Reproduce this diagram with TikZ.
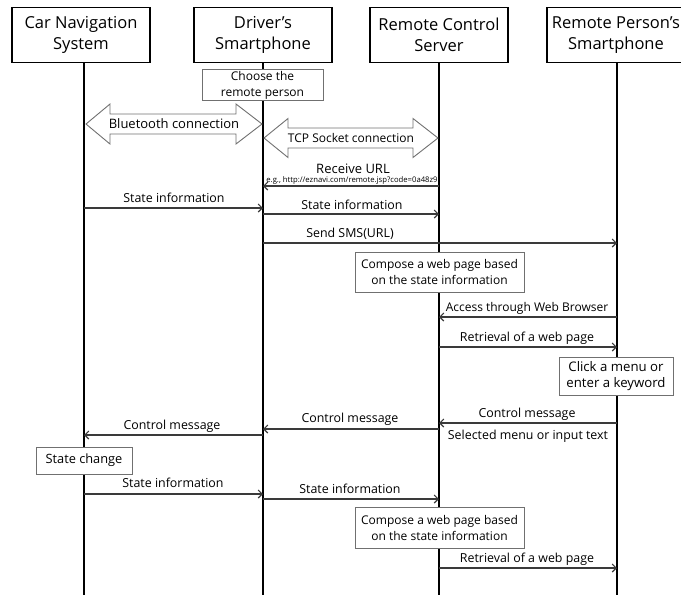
\documentclass[tikz,border=0pt]{standalone}
\usepackage{fontspec}
\setmainfont{Open Sans}
\usetikzlibrary{arrows.meta}
\definecolor{linegray}{HTML}{3A3A3A}
\definecolor{boxgray}{HTML}{707070}
\begin{document}
\begin{tikzpicture}[x=1pt,y=-1pt,
  head/.style={draw=black, line width=1.4pt, minimum width=138pt, minimum height=55pt,
    align=center, inner sep=0pt, font=\fontsize{16.5}{21}\selectfont},
  act/.style={draw=boxgray, line width=0.9pt, fill=white, align=center, inner sep=0pt,
    font=\fontsize{12}{16}\selectfont},
  life/.style={draw=black, line width=1.2pt},
  msg/.style={draw=linegray, line width=1.1pt, -{Straight Barb[length=4pt,width=8pt]}},
  lbl/.style={font=\fontsize{12.4}{14}\selectfont, anchor=base, inner sep=0pt},
  tiny/.style={font=\fontsize{7.7}{9}\selectfont, anchor=base, inner sep=0pt},
  dbl/.style={draw=boxgray, line width=0.9pt, fill=white, line join=miter}
]
\useasboundingbox (0,0) rectangle (681,595);

% headers
\node[head] (car) at (81,35) {Car Navigation\\System};
\node[head] (drv) at (263,35) {Driver’s\\Smartphone};
\node[head] (srv) at (439,35) {Remote Control\\Server};
\node[head] (rem) at (616,35) {Remote Person’s\\Smartphone};

% lifelines
\coordinate (carE) at (84,596);
\coordinate (drvE) at (263,596);
\coordinate (srvE) at (439,596);
\coordinate (remE) at (617,596);
\draw[life] (car.south -| carE) -- (carE);
\draw[life] (drv) -- (drvE);
\draw[life] (srv) -- (srvE);
\draw[life] (rem.south -| remE) -- (remE);

% activity boxes
\node[act, minimum width=121pt, minimum height=31pt] (choose) at (262.5,85) {Choose the\\remote person};
\node[act, minimum width=169pt, minimum height=40pt] (comp1) at (439.5,272) {Compose a web page based\\on the state information};
\node[act, minimum width=114pt, minimum height=38pt, font=\fontsize{13.2}{16}\selectfont] (click) at (616,376) {Click a menu or\\enter a keyword};
\node[act, minimum width=96pt, minimum height=27pt, font=\fontsize{12.8}{16}\selectfont] (chg) at (84,460.5) {State change};
\node[act, minimum width=169pt, minimum height=41pt] (comp2) at (439.5,527.5) {Compose a web page based\\on the state information};

% double arrows
\draw[dbl] (86,124) -- (110,104) -- (110,114) -- (236,114) -- (236,104) -- (262,124)
  -- (236,144) -- (236,134) -- (110,134) -- (110,144) -- cycle;
\node[font=\fontsize{13}{15}\selectfont, inner sep=0pt] (bt) at (174,124) {Bluetooth connection};
\draw[dbl] (264,138) -- (288,118.5) -- (288,128) -- (413,128) -- (413,118.5) -- (438,138)
  -- (413,157.5) -- (413,148) -- (288,148) -- (288,157.5) -- cycle;
\node[font=\fontsize{12}{14}\selectfont, inner sep=0pt] (tcp) at (351,138) {TCP Socket connection};

% messages
\coordinate (a1) at (439,186); \coordinate (b1) at (263,186);
\draw[msg] (a1) -- (b1);
\node[lbl, font=\fontsize{13}{15}\selectfont] (t1) at (353,173) {Receive URL};
\node[tiny] (t1b) at (352,182.5) {e.g., http://eznavi.com/remote.jsp?code=0a48z9};

\coordinate (a2) at (84,208); \coordinate (b2) at (263,208);
\draw[msg] (a2) -- (b2);
\node[lbl] (t2) at (174,202.5) {State information};

\coordinate (a3) at (263,214); \coordinate (b3) at (439,214);
\draw[msg] (a3) -- (b3);
\node[lbl] (t3) at (352,209) {State information};

\coordinate (a4) at (263,243); \coordinate (b4) at (617,243);
\draw[msg] (a4) -- (b4);
\node[lbl] (t4) at (350,237) {Send SMS(URL)};

\coordinate (a6) at (617,317); \coordinate (b6) at (439,317);
\draw[msg] (a6) -- (b6);
\node[lbl, font=\fontsize{12}{14}\selectfont] (t6) at (527,311) {Access through Web Browser};

\coordinate (a7) at (439,347); \coordinate (b7) at (617,347);
\draw[msg] (a7) -- (b7);
\node[lbl] (t7) at (527,341) {Retrieval of a web page};

\coordinate (a9) at (617,423); \coordinate (b9) at (439,423);
\draw[msg] (a9) -- (b9);
\node[lbl] (t9) at (527,417) {Control message};
\node[lbl] (t9b) at (528,439) {Selected menu or input text};

\coordinate (a10) at (439,429); \coordinate (b10) at (263,429);
\draw[msg] (a10) -- (b10);
\node[lbl] (t10) at (350,422.5) {Control message};

\coordinate (a11) at (263,435); \coordinate (b11) at (84,435);
\draw[msg] (a11) -- (b11);
\node[lbl] (t11) at (172,429) {Control message};

\coordinate (a13) at (84,494); \coordinate (b13) at (263,494);
\draw[msg] (a13) -- (b13);
\node[lbl] (t13) at (173,487.5) {State information};

\coordinate (a14) at (263,499); \coordinate (b14) at (439,499);
\draw[msg] (a14) -- (b14);
\node[lbl] (t14) at (350,493.5) {State information};

\coordinate (a16) at (439,568); \coordinate (b16) at (617,568);
\draw[msg] (a16) -- (b16);
\node[lbl] (t16) at (527,562) {Retrieval of a web page};
\end{tikzpicture}
\end{document}
